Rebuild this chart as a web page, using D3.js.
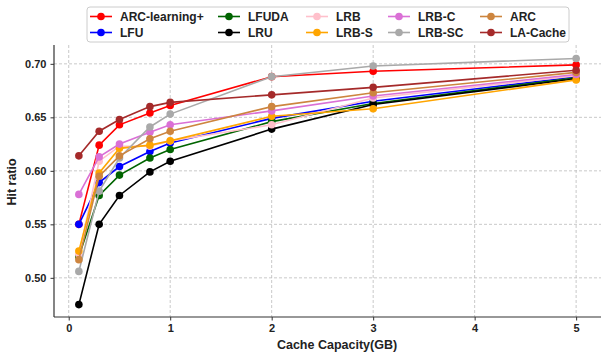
<!DOCTYPE html>
<html>
<head>
<meta charset="utf-8">
<script src="https://cdn.jsdelivr.net/npm/d3@7"></script>
<style>
  body { margin: 0; background: #fff; }
  svg { font-family: "Liberation Sans", Arial, sans-serif; }
</style>
</head>
<body>
<svg id="chart" width="601" height="355"></svg>
<script>
// data
const capacity = [0.1, 0.3, 0.5, 0.8, 1, 2, 3, 5];
const arcLearningPlus = [0.550, 0.624, 0.643, 0.654, 0.661, 0.688, 0.693, 0.699];
const lfu     = [0.550, 0.589, 0.604, 0.618, 0.626, 0.649, 0.665, 0.688];
const lfuda   = [0.520, 0.577, 0.596, 0.612, 0.620, 0.646, 0.663, 0.687];
const lru     = [0.475, 0.550, 0.577, 0.599, 0.609, 0.639, 0.662, 0.686];
const lrb     = [0.522, 0.609, 0.623, 0.623, 0.628, 0.643, 0.668, 0.689];
const lrbS    = [0.525, 0.598, 0.621, 0.624, 0.628, 0.651, 0.658, 0.685];
const lrbC    = [0.578, 0.613, 0.625, 0.636, 0.643, 0.656, 0.670, 0.690];
const lrbSC   = [0.506, 0.581, 0.612, 0.641, 0.653, 0.688, 0.698, 0.705];
const arc     = [0.517, 0.595, 0.614, 0.630, 0.637, 0.660, 0.673, 0.692];
const laCache = [0.614, 0.637, 0.648, 0.660, 0.664, 0.671, 0.678, 0.694];
const xTicks = [0, 1, 2, 3, 4, 5];
const yTicks = [0.50, 0.55, 0.60, 0.65, 0.70];

const series = [
  { name: "ARC-learning+", color: "red", values: arcLearningPlus },
  { name: "LFU", color: "blue", values: lfu },
  { name: "LFUDA", color: "#006400", values: lfuda },
  { name: "LRU", color: "black", values: lru },
  { name: "LRB", color: "pink", values: lrb },
  { name: "LRB-S", color: "orange", values: lrbS },
  { name: "LRB-C", color: "orchid", values: lrbC },
  { name: "LRB-SC", color: "darkgray", values: lrbSC },
  { name: "ARC", color: "peru", values: arc },
  { name: "LA-Cache", color: "brown", values: laCache }
];

const svg = d3.select("#chart");
const margin = { top: 45, right: 0, bottom: 38, left: 54 };
const width = +svg.attr("width"), height = +svg.attr("height");
const w = width - margin.left - margin.right;
const h = height - margin.top - margin.bottom;

const g = svg.append("g").attr("transform", `translate(${margin.left},${margin.top})`);

const x = d3.scaleLinear().domain([-0.145, 5.245]).range([0, w]);
const y = d3.scaleLinear().domain([0.4634, 0.7176]).range([h, 0]);

// grid
g.append("g").selectAll("line").data(xTicks).join("line")
  .attr("x1", d => x(d)).attr("x2", d => x(d))
  .attr("y1", 0).attr("y2", h)
  .attr("stroke", "#bbb").attr("stroke-width", 0.8).attr("stroke-dasharray", "3,2");
g.append("g").selectAll("line").data(yTicks).join("line")
  .attr("x1", 0).attr("x2", w)
  .attr("y1", d => y(d)).attr("y2", d => y(d))
  .attr("stroke", "#bbb").attr("stroke-width", 0.8).attr("stroke-dasharray", "3,2");

// axes
const xAxis = g.append("g").attr("transform", `translate(0,${h})`)
  .call(d3.axisBottom(x).tickValues(xTicks).tickFormat(d3.format("d")).tickSize(3.5).tickPadding(4));
const yAxis = g.append("g")
  .call(d3.axisLeft(y).tickValues(yTicks).tickFormat(d3.format(".2f")).tickSize(3.5).tickPadding(4));
[xAxis, yAxis].forEach(a => {
  a.select(".domain").attr("stroke", "#333").attr("stroke-width", 1.2);
  a.selectAll(".tick line").attr("stroke", "#333");
  a.selectAll("text").attr("font-size", 11).attr("font-weight", "bold").attr("fill", "#222")
    .attr("font-family", "Liberation Sans, Arial, sans-serif");
});
// keep only the two spines
xAxis.select(".domain").attr("d", `M0,0H${w}`);
yAxis.select(".domain").attr("d", `M0,0V${h}`);

// lines
const line = d3.line().x((d, i) => x(capacity[i])).y(d => y(d));
series.forEach(s => {
  const sg = g.append("g");
  sg.append("path").datum(s.values)
    .attr("fill", "none").attr("stroke", s.color).attr("stroke-width", 1.6).attr("d", line);
  sg.selectAll("circle").data(s.values).join("circle")
    .attr("cx", (d, i) => x(capacity[i])).attr("cy", d => y(d)).attr("r", 3.8)
    .attr("fill", s.color);
});

// axis labels
svg.append("text").attr("x", 337).attr("y", 349).attr("text-anchor", "middle")
  .attr("font-size", 12.5).attr("font-weight", "bold").attr("fill", "#222").text("Cache Capacity(GB)");
svg.append("text").attr("transform", "rotate(-90)").attr("x", -182).attr("y", 16)
  .attr("text-anchor", "middle").attr("font-size", 12.5).attr("font-weight", "bold").attr("fill", "#222")
  .text("Hit ratio");

// legend
const legend = svg.append("g");
legend.append("rect").attr("x", 87).attr("y", 7).attr("width", 482).attr("height", 35).attr("rx", 3)
  .attr("fill", "white").attr("fill-opacity", 0.85).attr("stroke", "#ccc").attr("stroke-width", 1);
const colX = [90, 218, 306, 388, 480];
const rowY = [16.5, 32.5];
series.forEach((s, i) => {
  const cx = colX[Math.floor(i / 2)], cy = rowY[i % 2];
  legend.append("line").attr("x1", cx).attr("x2", cx + 22).attr("y1", cy).attr("y2", cy)
    .attr("stroke", s.color).attr("stroke-width", 1.6);
  legend.append("circle").attr("cx", cx + 11).attr("cy", cy).attr("r", 3.8).attr("fill", s.color);
  legend.append("text").attr("x", cx + 30).attr("y", cy).attr("dy", "0.35em")
    .attr("font-size", 12).attr("font-weight", "bold").attr("fill", "#222").text(s.name);
});
</script>
</body>
</html>
